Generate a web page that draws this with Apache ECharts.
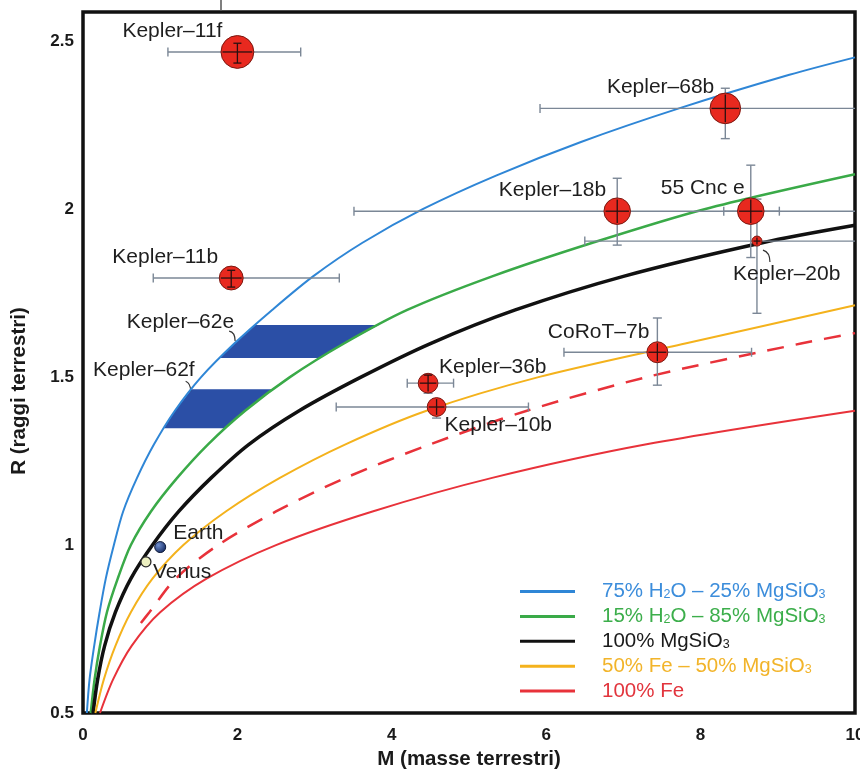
<!DOCTYPE html>
<html><head><meta charset="utf-8">
<script src="https://cdn.jsdelivr.net/npm/echarts@6/dist/echarts.min.js"></script>
<style>html,body{margin:0;padding:0;background:#fff}#c{width:860px;height:775px}</style>
</head><body><div id="c"></div>
<script>
// ---- data ----
const xTicks = [0, 2, 4, 6, 8, 10];
const yTicks = [0.5, 1, 1.5, 2, 2.5];

const compNames = ['75% H2O – 25% MgSiO3', '15% H2O – 85% MgSiO3', '100% MgSiO3', '50% Fe – 50% MgSiO3', '100% Fe'];

// [M, R]
const curveH2O75 = [[0.05,0.5],[0.085,0.6],[0.145,0.7],[0.215,0.8],[0.295,0.9],[0.40,1.0],[0.52,1.1],[0.70,1.2],[0.92,1.3],[1.19,1.4],[1.53,1.5],[1.96,1.6],[2.45,1.7],[2.98,1.8],[3.62,1.9],[4.40,2.0],[5.35,2.1],[6.45,2.2],[7.72,2.3],[9.15,2.4],[10,2.452]];
const curveH2O15 = [[0.10,0.5],[0.15,0.6],[0.22,0.7],[0.31,0.8],[0.45,0.9],[0.62,1.0],[0.88,1.1],[1.22,1.2],[1.62,1.3],[2.10,1.4],[2.68,1.5],[3.38,1.6],[4.2,1.7],[5.3,1.8],[6.6,1.9],[8.05,2.0],[10,2.104]];
const curveMgSiO3 = [[0.13,0.5],[0.19,0.6],[0.28,0.7],[0.42,0.8],[0.62,0.9],[0.90,1.0],[1.24,1.1],[1.66,1.2],[2.15,1.3],[2.80,1.4],[3.6,1.5],[4.5,1.6],[5.6,1.7],[7.0,1.8],[8.8,1.9],[10,1.952]];
const curveFe50 = [[0.16,0.5],[0.27,0.6],[0.42,0.7],[0.62,0.8],[0.90,0.9],[1.30,1.0],[1.85,1.1],[2.55,1.2],[3.4,1.3],[4.45,1.4],[5.9,1.5],[7.8,1.6],[10,1.714]];
const curveFe100 = [[0.22,0.5],[0.39,0.6],[0.63,0.7],[1.0,0.8],[1.6,0.9],[2.5,1.0],[3.75,1.1],[5.3,1.2],[7.3,1.3],[10,1.4]];
const curveDashed = [[0.75,0.768],[0.86,0.8],[1.2,0.9],[1.75,1.0],[2.5,1.1],[3.4,1.2],[4.5,1.3],[5.75,1.4],[7.3,1.5],[9.3,1.6],[10,1.631]];

const planetNames = ['Kepler–11f','Kepler–68b','Kepler–18b','55 Cnc e','Kepler–20b','Kepler–11b','CoRoT–7b','Kepler–36b','Kepler–10b'];
const planetM   = [2.00, 8.32, 6.92, 8.65, 8.73, 1.92, 7.44, 4.47, 4.58];
const planetR   = [2.468, 2.30, 1.994, 1.994, 1.905, 1.795, 1.574, 1.482, 1.411];
const planetMlo = [1.10, 5.92, 3.51, 8.30, 6.50, 0.91, 6.23, 4.20, 3.28];
const planetMhi = [2.82, 10.8, 10.3, 9.02, 10.9, 3.32, 8.66, 4.80, 5.77];
const planetRlo = [2.435, 2.21, 1.893, 1.856, 1.69, 1.768, 1.476, 1.452, 1.378];
const planetRhi = [2.494, 2.36, 2.092, 2.131, 2.03, 1.818, 1.676, 1.506, 1.435];

const solarNames = ['Earth', 'Venus'];
const solarM = [1.0, 0.815];
const solarR = [0.994, 0.95];

const bandNames = ['Kepler–62e', 'Kepler–62f'];
const bandRlo = [1.557, 1.348];
const bandRhi = [1.655, 1.464];

// ---- styles ----
const FONT = '"Liberation Sans", Arial, Helvetica, sans-serif';
const compColors = ['#2f86d6', '#3aaa48', '#111111', '#f4b21c', '#e8323a'];
const compWidths = [2, 2.5, 3.5, 2, 2];
const legendColors = ['#3c8ddb', '#3cae4b', '#1a1a1a', '#f2b42a', '#e2353d'];
const labelPlace = {
  'Kepler–11f': ['right', -15, -21], 'Kepler–68b': ['right', -11, -21], 'Kepler–18b': ['right', -11, -21],
  '55 Cnc e': ['right', -6, -23], 'Kepler–20b': ['left', -24, 33], 'Kepler–11b': ['right', -13, -21],
  'CoRoT–7b': ['right', -8, -20], 'Kepler–36b': ['left', 11, -16], 'Kepler–10b': ['left', 8, 18],
  'Earth': ['left', 13, -14], 'Venus': ['left', 7, 10]
};
const bandPlace = [[-21, -3, [-26, 6, -20, 7, -20, 16]], [3, -19, [-6, -8, -1, -6, -1, 2]]];

function sizeFor(i) { return planetNames[i] === 'Kepler–20b' ? 10 : 13.3 * planetR[i]; }
function mAtR(curve, r) {
  for (let k = 0; k < curve.length - 1; k++) {
    const a = curve[k], b = curve[k + 1];
    if (r >= a[1] && r <= b[1]) return a[0] + (b[0] - a[0]) * (r - a[1]) / (b[1] - a[1]);
  }
  return curve[curve.length - 1][0];
}

const planetData = planetM.map((m, i) => [m, planetR[i], planetMlo[i], planetMhi[i], planetRlo[i], planetRhi[i]]);
const textStyleBase = { fontFamily: FONT, fontSize: 21, fill: '#1e1e1e' };

function errRender(params, api) {
  const m = api.value(0), r = api.value(1);
  const pL = api.coord([api.value(2), r]), pR = api.coord([api.value(3), r]);
  const pB = api.coord([m, api.value(4)]), pT = api.coord([m, api.value(5)]);
  const c = 4.5, st = { stroke: '#7b8796', lineWidth: 1.4 };
  const segs = [[pL[0], pL[1], pR[0], pR[1]], [pB[0], pB[1], pT[0], pT[1]],
    [pL[0], pL[1] - c, pL[0], pL[1] + c], [pR[0], pR[1] - c, pR[0], pR[1] + c],
    [pB[0] - c, pB[1], pB[0] + c, pB[1]], [pT[0] - c, pT[1], pT[0] + c, pT[1]]];
  return { type: 'group', children: segs.map(s => ({ type: 'line', shape: { x1: s[0], y1: s[1], x2: s[2], y2: s[3] }, style: st })) };
}

function innerRender(params, api) {
  const i = params.dataIndex;
  const m = api.value(0), r = api.value(1);
  const p = api.coord([m, r]);
  const rad = sizeFor(i) / 2 - 1.5;
  const xl = api.coord([api.value(2), r])[0], xr = api.coord([api.value(3), r])[0];
  const yb = api.coord([m, api.value(4)])[1], yt = api.coord([m, api.value(5)])[1];
  const st = { stroke: '#2a1010', lineWidth: 1.3 };
  const ch = [];
  ch.push({ type: 'line', shape: { x1: Math.max(xl, p[0] - rad), y1: p[1], x2: Math.min(xr, p[0] + rad), y2: p[1] }, style: st });
  ch.push({ type: 'line', shape: { x1: p[0], y1: Math.max(yt, p[1] - rad), x2: p[0], y2: Math.min(yb, p[1] + rad) }, style: st });
  if (p[1] - yt < rad) ch.push({ type: 'line', shape: { x1: p[0] - 4, y1: yt, x2: p[0] + 4, y2: yt }, style: st });
  if (yb - p[1] < rad) ch.push({ type: 'line', shape: { x1: p[0] - 4, y1: yb, x2: p[0] + 4, y2: yb }, style: st });
  const lp = labelPlace[planetNames[i]];
  ch.push({ type: 'text', x: p[0] + lp[1], y: p[1] + lp[2], style: Object.assign({ text: planetNames[i], align: lp[0], verticalAlign: 'middle' }, textStyleBase) });
  if (planetNames[i] === 'Kepler–20b') {
    ch.push({ type: 'bezierCurve', shape: { x1: p[0] + 6, y1: p[1] + 9, cpx1: p[0] + 13, cpy1: p[1] + 11, x2: p[0] + 13, y2: p[1] + 21 }, style: { stroke: '#333', lineWidth: 1.2, fill: null } });
  }
  return { type: 'group', children: ch };
}

function solarLabelRender(params, api) {
  const i = params.dataIndex;
  const p = api.coord([api.value(0), api.value(1)]);
  const lp = labelPlace[solarNames[i]];
  return { type: 'text', x: p[0] + lp[1], y: p[1] + lp[2], style: Object.assign({ text: solarNames[i], align: lp[0], verticalAlign: 'middle' }, textStyleBase) };
}

function bandRender(params, api) {
  const i = params.dataIndex;
  const lo = api.value(0), hi = api.value(1);
  const n = 8, pts = [];
  for (let k = 0; k <= n; k++) { const r = lo + (hi - lo) * k / n; pts.push(api.coord([mAtR(curveH2O75, r), r])); }
  for (let k = n; k >= 0; k--) { const r = lo + (hi - lo) * k / n; pts.push(api.coord([mAtR(curveH2O15, r), r])); }
  const a = api.coord([mAtR(curveH2O75, hi), hi]);
  const bp = bandPlace[i], L = bp[2];
  return { type: 'group', children: [
    { type: 'polygon', shape: { points: pts }, style: { fill: '#2b4fa6' } },
    { type: 'text', x: a[0] + bp[0], y: a[1] + bp[1], style: Object.assign({ text: bandNames[i], align: 'right', verticalAlign: 'middle' }, textStyleBase) },
    { type: 'bezierCurve', shape: { x1: a[0] + L[0], y1: a[1] + L[1], cpx1: a[0] + L[2], cpy1: a[1] + L[3], x2: a[0] + L[4], y2: a[1] + L[5] }, style: { stroke: '#333', lineWidth: 1.2, fill: null } }
  ] };
}

const curves = [curveH2O75, curveH2O15, curveMgSiO3, curveFe50, curveFe100];
const SMOOTH = 0.3;
const series = [];
series.push({ type: 'custom', name: 'bands', z: 1, clip: true, renderItem: bandRender, data: bandRlo.map((v, i) => [v, bandRhi[i]]), encode: { x: -1, y: [0, 1] }, silent: true });
curves.forEach((c, i) => series.push({ type: 'line', name: compNames[i], data: c, smooth: SMOOTH, symbol: 'none', clip: true, z: 2,
  lineStyle: { color: compColors[i], width: compWidths[i] }, itemStyle: { color: compColors[i] } }));
series.push({ type: 'line', name: 'dashed', data: curveDashed, smooth: SMOOTH, symbol: 'none', clip: true, z: 2,
  lineStyle: { color: '#e8323a', width: 2.5, type: [17, 12] } });
series.push({ type: 'custom', name: 'err', z: 3, clip: true, renderItem: errRender, data: planetData, encode: { x: 0, y: 1 } });
series.push({ type: 'scatter', name: 'planets', z: 4, data: planetData.map(d => [d[0], d[1]]),
  symbolSize: (v, p) => sizeFor(p.dataIndex), itemStyle: { color: '#e8291f', borderColor: '#7a1810', borderWidth: 1, opacity: 1 } });
series.push({ type: 'custom', name: 'inner', z: 5, clip: false, renderItem: innerRender, data: planetData, encode: { x: 0, y: 1 } });
series.push({ type: 'scatter', name: 'Earth', z: 4, data: [[solarM[0], solarR[0]]], symbolSize: 11,
  itemStyle: { color: new echarts.graphic.RadialGradient(0.35, 0.35, 0.7, [{ offset: 0, color: '#7090d0' }, { offset: 1, color: '#13285f' }]), borderColor: '#0e1a3a', borderWidth: 1, opacity: 1 } });
series.push({ type: 'scatter', name: 'Venus', z: 4, data: [[solarM[1], solarR[1]]], symbolSize: 10,
  itemStyle: { color: '#ecefc0', borderColor: '#2a2a2a', borderWidth: 1.3, opacity: 1 } });
series.push({ type: 'custom', name: 'solarLabels', z: 5, clip: false, renderItem: solarLabelRender, data: solarM.map((m, i) => [m, solarR[i]]), encode: { x: 0, y: 1 } });

const chart = echarts.init(document.getElementById('c'), null, { renderer: 'canvas' });
chart.setOption({
  animation: false,
  backgroundColor: '#ffffff',
  grid: { left: 83, right: 5, top: 12, bottom: 62, show: true, borderColor: '#111', borderWidth: 3.5, backgroundColor: 'transparent', outerBoundsMode: 'none', containLabel: false },
  xAxis: {
    type: 'value', min: xTicks[0], max: xTicks[xTicks.length - 1], interval: 2,
    axisLine: { show: false }, axisTick: { show: false }, splitLine: { show: false },
    axisLabel: { margin: 14, fontFamily: FONT, fontSize: 17, fontWeight: 'bold', color: '#1a1a1a',
      formatter: v => xTicks.includes(v) ? String(v) : '' },
    name: 'M (masse terrestri)', nameLocation: 'middle', nameGap: 34,
    nameTextStyle: { fontFamily: FONT, fontSize: 20.5, fontWeight: 'bold', color: '#1a1a1a' }
  },
  yAxis: {
    type: 'value', min: 0.5, max: 2.587, interval: 0.5,
    axisLine: { show: false }, axisTick: { show: false }, splitLine: { show: false },
    axisLabel: { margin: 9, fontFamily: FONT, fontSize: 17, fontWeight: 'bold', color: '#1a1a1a',
      formatter: v => yTicks.includes(+(+v).toFixed(3)) ? String(+(+v).toFixed(3)) : '' }
  },
  legend: {
    orient: 'vertical', left: 520, top: 581, padding: 0, itemGap: 3.9, itemWidth: 55, itemHeight: 3,
    icon: 'rect',
    data: compNames.map((n, i) => ({ name: n, textStyle: { color: legendColors[i] } })),
    formatter: n => n.replace('H2O', 'H{s|2}O').replace('SiO3', 'SiO{s|3}'),
    textStyle: { fontFamily: FONT, fontSize: 20.5, lineHeight: 20, padding: [0, 0, 0, 22],
      rich: { s: { fontFamily: FONT, fontSize: 12.5, lineHeight: 4, verticalAlign: 'bottom' } } },
    selectedMode: false
  },
  graphic: [
    { type: 'text', x: 19, y: 391, rotation: Math.PI / 2, style: { text: 'R (raggi terrestri)', fontFamily: FONT, fontSize: 20.5, fontWeight: 'bold', fill: '#1a1a1a', align: 'center', verticalAlign: 'middle' } },
    { type: 'line', shape: { x1: 221, y1: 0, x2: 221, y2: 11 }, style: { stroke: '#555', lineWidth: 1.5 } }
  ],
  series: series
});
</script></body></html>
